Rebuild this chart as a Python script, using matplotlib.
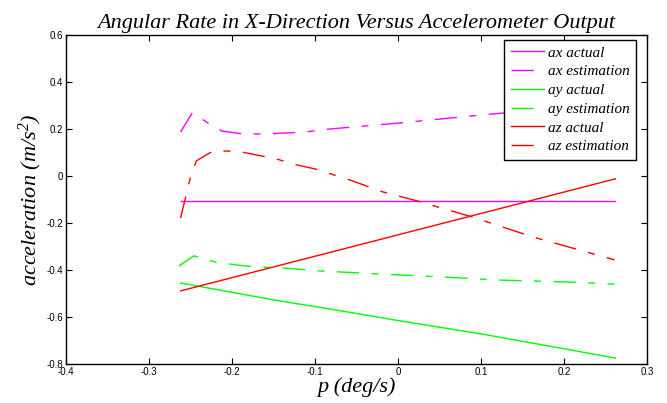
import numpy as np
import matplotlib.pyplot as plt

# p (deg/s) samples and accelerometer outputs
p_act = [-0.262, 0.262]
ax_act = [-0.106, -0.106]
ay_act_p = [-0.262, -0.202, -0.142, -0.082, 0.0, 0.1, 0.2, 0.262]
ay_act = [-0.455, -0.494, -0.532, -0.566, -0.615, -0.672, -0.735, -0.775]
az_act = [-0.489, -0.012]

ax_est_p = [-0.262, -0.248, -0.229, -0.212, -0.187, -0.158, -0.112, -0.082, 0.0, 0.108, 0.262]
ax_est = [0.187, 0.268, 0.226, 0.191, 0.179, 0.179, 0.187, 0.200, 0.225, 0.262, 0.31]

ay_est_p = [-0.264, -0.246, -0.220, -0.194, -0.170, -0.140, -0.094, -0.022, 0.054, 0.123, 0.204, 0.261]
ay_est = [-0.383, -0.340, -0.366, -0.379, -0.387, -0.391, -0.404, -0.417, -0.430, -0.443, -0.451, -0.460]

az_est_p = [-0.262, -0.250, -0.243, -0.227, -0.215, -0.194, -0.146, -0.122, -0.100, -0.058, -0.018,
            0.023, 0.089, 0.163, 0.261]
az_est = [-0.179, -0.004, 0.064, 0.098, 0.106, 0.106, 0.072, 0.047, 0.030, -0.017, -0.068,
          -0.106, -0.174, -0.260, -0.357]

plt.rcParams['font.family'] = ['Liberation Sans', 'DejaVu Sans']
plt.rcParams['mathtext.fontset'] = 'custom'
plt.rcParams['mathtext.rm'] = 'Liberation Serif:italic'
plt.rcParams['mathtext.it'] = 'Liberation Serif:italic'
serif_it = dict(family='Liberation Serif', style='italic')

fig = plt.figure(figsize=(6.67, 4.03), dpi=100)
ax = fig.add_axes([0.099, 0.0968, 0.871, 0.8164])

dd = (16, 9, 5, 9)
ax.plot(p_act, ax_act, color='#ff00ff', lw=1, label='ax actual')
ax.plot(ax_est_p, ax_est, color='#ff00ff', lw=1, dashes=dd, label='ax estimation')
ax.plot(ay_act_p, ay_act, color='#00ff00', lw=1, label='ay actual')
ax.plot(ay_est_p, ay_est, color='#00ff00', lw=1, dashes=dd, label='ay estimation')
ax.plot(p_act, az_act, color='#ff0000', lw=1, label='az actual')
ax.plot(az_est_p, az_est, color='#ff0000', lw=1, dashes=dd, label='az estimation')

ax.set_xlim(-0.4, 0.3)
ax.set_ylim(-0.8, 0.6)
ax.set_xticks(np.arange(-0.4, 0.31, 0.1))
ax.set_yticks(np.arange(-0.8, 0.61, 0.2))
ax.set_xticklabels(['-0.4', '-0.3', '-0.2', '-0.1', '0', '0.1', '0.2', '0.3'])
ax.set_yticklabels(['-0.8', '-0.6', '-0.4', '-0.2', '0', '0.2', '0.4', '0.6'])
ax.tick_params(direction='in', top=True, right=True, labelsize=7, length=4, width=0.8, pad=2)
for s in ax.spines.values():
    s.set_linewidth(1)

ax.set_title('Angular Rate in X-Direction Versus Accelerometer Output', fontsize=16, pad=5, **serif_it)
ax.set_xlabel('p (deg/s)', fontsize=16, labelpad=0, **serif_it)
ax.set_ylabel('acceleration (m/s$^2$)', fontsize=16, labelpad=2, **serif_it)

leg = ax.legend(loc='upper right', bbox_to_anchor=(0.981, 0.985), borderaxespad=0,
                fancybox=False, framealpha=1, edgecolor='black',
                prop=dict(family='Liberation Serif', style='italic', size=11),
                handlelength=2.16, labelspacing=0.33, borderpad=0.4, handletextpad=0.3)
leg.get_frame().set_linewidth(1)

fig.savefig('out.png', dpi=100)
